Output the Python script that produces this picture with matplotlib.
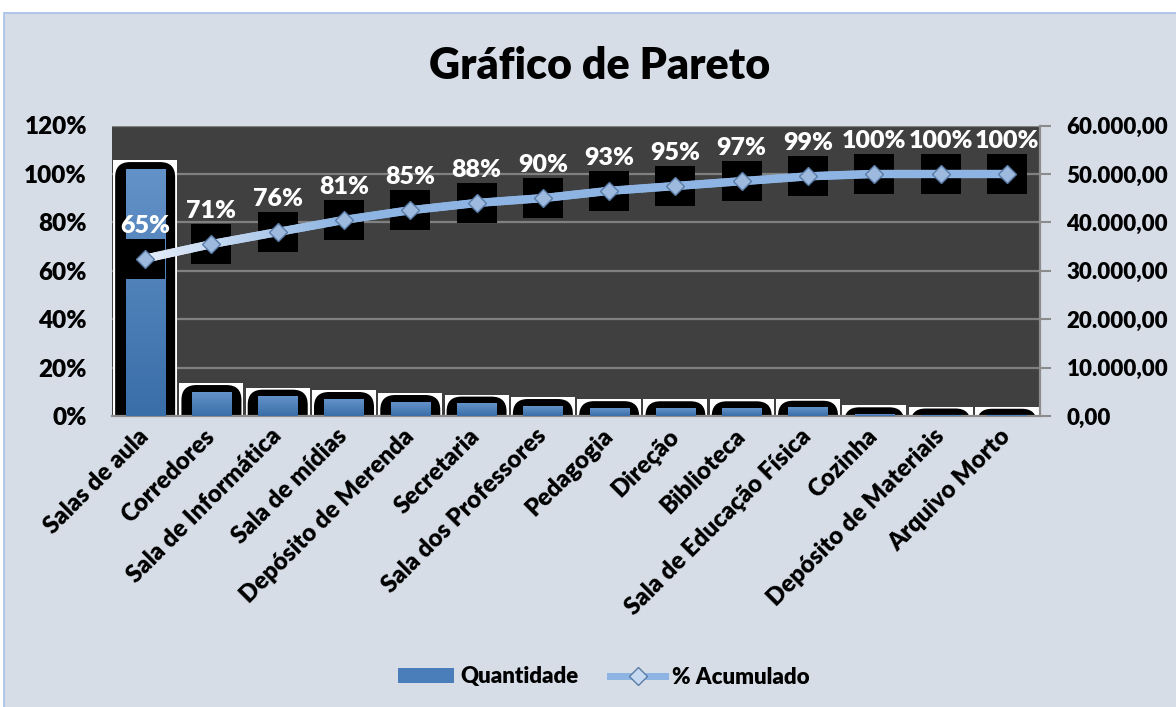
import numpy as np
import matplotlib
matplotlib.use('Agg')
import matplotlib.pyplot as plt
from matplotlib.patches import Rectangle, FancyBboxPatch, Patch
from matplotlib.lines import Line2D
from matplotlib.collections import LineCollection
from matplotlib.colors import LinearSegmentedColormap, to_rgb
from matplotlib.transforms import IdentityTransform

categories = ["Salas de aula", "Corredores", "Sala de Informática", "Sala de mídias",
              "Depósito de Merenda", "Secretaria", "Sala dos Professores", "Pedagogia",
              "Direção", "Biblioteca", "Sala de Educação Física", "Cozinha",
              "Depósito de Materiais", "Arquivo Morto"]
quantidade = [51000, 4950, 3990, 3510, 2890, 2560, 2060, 1620, 1600, 1590, 1700, 350, 100, 50]
pct_acumulado = [65, 71, 76, 81, 85, 88, 90, 93, 95, 97, 99, 100, 100, 100]
pct_ticks = [0, 20, 40, 60, 80, 100, 120]
qty_ticks = [0, 10000, 20000, 30000, 40000, 50000, 60000]
title = "Gráfico de Pareto"
series_names = ["Quantidade", "% Acumulado"]

plt.rcParams['font.family'] = ['Lato', 'DejaVu Sans']
plt.rcParams['font.weight'] = 'heavy'

W, H = 1176, 707
fig = plt.figure(figsize=(W / 100, H / 100), dpi=100)
fig.patch.set_facecolor('white')
fig.patches.append(Rectangle((4 / W, -0.01), 1.0, (H - 13) / H + 0.01, transform=fig.transFigure,
                             facecolor='#D6DDE7', edgecolor='#A9C4E8', lw=1.3, zorder=-10))

ax = fig.add_axes([112 / W, (H - 416) / H, (1040 - 112) / W, (416 - 125.5) / H])
ax.set_facecolor('#404040')
n = len(categories)
x = np.arange(n)
ax.set_xlim(-0.5, n - 0.5)
ax.set_ylim(0, qty_ticks[-1])

def br_fmt(v):
    s = f"{v:,.2f}"
    return s.replace(',', 'X').replace('.', ',').replace('X', '.')

ax.grid(axis='y', color='#808080', lw=1.6)
ax.set_axisbelow(True)
for s in ['top', 'left']:
    ax.spines[s].set_visible(False)
ax.spines['right'].set_color('#8C8C8C')
ax.spines['right'].set_linewidth(1.6)
ax.spines['bottom'].set_color('#8C8C8C')
ax.spines['bottom'].set_linewidth(1.6)

ax.set_xticks(x)
ax.set_xticklabels(categories, rotation=45, ha='right', va='center', rotation_mode='anchor')
ax.tick_params(axis='x', length=0, pad=12, labelsize=17.3)

ax2 = ax.twinx()
ax2.set_ylim(0, pct_ticks[-1])
ax2.set_yticks(pct_ticks)
ax2.set_yticklabels([f"{v}%" for v in pct_ticks])
ax2.yaxis.tick_left()
ax2.tick_params(axis='y', which='both', left=True, right=False, labelleft=True,
                labelright=False, length=0, pad=18, labelsize=17.5)
for s in ax2.spines.values():
    s.set_visible(False)
ax2.patch.set_visible(False)

ax.set_yticks(qty_ticks)
ax.set_yticklabels([br_fmt(v) for v in qty_ticks])
ax.yaxis.tick_right()
ax.tick_params(axis='y', which='both', left=False, right=True, labelleft=False,
               labelright=True, length=8, width=1.5, color='#8C8C8C', pad=11, labelsize=16)

fig.canvas.draw()
ident = IdentityTransform()
bar_cmap = LinearSegmentedColormap.from_list('bar', ['#3A6EA8', '#6392C8'])
grad = np.linspace(0, 1, 256).reshape(-1, 1)
bw = 0.59
for i, v in enumerate(quantidade):
    cx, top = ax.transData.transform((i, v))
    _, base = ax.transData.transform((i, 0))
    ax.add_patch(Rectangle((cx - 32, base - 30), 64, top + 9 - (base - 30),
                           transform=ident, facecolor='white', edgecolor='none', zorder=1))
    ax.add_patch(FancyBboxPatch((cx - 30, base - 40), 60, top + 7 - (base - 40),
                                boxstyle="round,pad=0,rounding_size=15",
                                transform=ident, facecolor='black', edgecolor='none', zorder=2))
    ax.imshow(grad, cmap=bar_cmap, origin='lower', aspect='auto',
              extent=[i - bw / 2, i + bw / 2, 0, v], zorder=3)
ax.set_xlim(-0.5, n - 0.5)
ax.set_ylim(0, qty_ticks[-1])

# black squares behind markers
for i, p in enumerate(pct_acumulado):
    px, py = ax2.transData.transform((i, p))
    ax2.add_patch(Rectangle((px - 20, py - 20), 40, 40, transform=ident,
                            facecolor='black', edgecolor='none', zorder=2))

# gradient line
pts = []
for i in range(n - 1):
    for t in np.linspace(0, 1, 21)[:-1]:
        pts.append((i + t, pct_acumulado[i] + t * (pct_acumulado[i + 1] - pct_acumulado[i])))
pts.append((n - 1, pct_acumulado[-1]))
pts = np.array(pts)
segs = np.stack([pts[:-1], pts[1:]], axis=1)
c0, c1 = np.array(to_rgb('#E6EEF9')), np.array(to_rgb('#8DB4E2'))
cols = []
for sgm in segs:
    f = min(1.0, sgm[0][0] / 3.0)
    cols.append(tuple(c0 + (c1 - c0) * f))
lc = LineCollection(segs, colors=cols, linewidths=6, capstyle='round', zorder=3)
ax2.add_collection(lc)
ax2.plot(x, pct_acumulado, linestyle='none', marker='D', ms=9, mfc='#9DB9DE',
         mec='#5A7BA6', mew=1, zorder=4)
for i, p in enumerate(pct_acumulado):
    ax2.annotate(f"{p}%", (i, p), xytext=(0, 33), textcoords='offset pixels',
                 ha='center', va='center', color='white', fontsize=18, zorder=5)
ax2.set_xlim(-0.5, n - 0.5)

fig.text(600 / W, (H - 66) / H, title, ha='center', va='center', fontsize=31)

handles = [Patch(facecolor='#4A7EBB', edgecolor='none'),
           Line2D([], [], color='#8DB4E2', lw=5, marker='D', ms=9, mfc='#C6D9F1', mec='#5A7BA6')]
fig.legend(handles, series_names, loc='center', bbox_to_anchor=(604 / W, (H - 677) / H),
           ncol=2, frameon=False, fontsize=16, handlelength=2.5, handleheight=0.65,
           handletextpad=0.3, columnspacing=1.4)

fig.savefig('out.png', dpi=100, facecolor=fig.get_facecolor())
